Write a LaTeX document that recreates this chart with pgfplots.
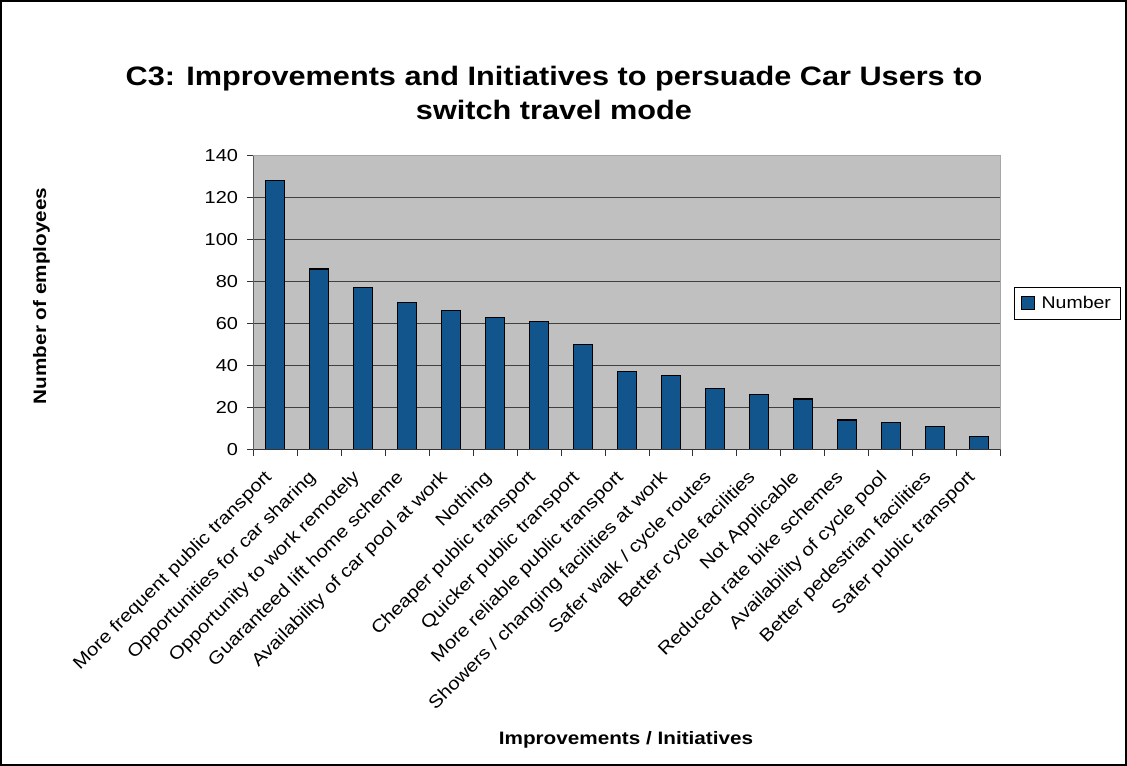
\documentclass[border=0pt]{standalone}
\usepackage{fontspec}
\setmainfont{Liberation Sans}[FakeStretch=1.15]
\usepackage{pgfplots}
\pgfplotsset{compat=1.18}
\definecolor{barblue}{RGB}{18,84,140}
\definecolor{plotgray}{RGB}{192,192,192}

\begin{document}
\begin{tikzpicture}
\useasboundingbox (0,0) rectangle (845.25pt,574.5pt);
\draw[black, line width=1.2pt] (0.6pt,0.6pt) rectangle (844.65pt,573.9pt);

% title and axis titles (1px = 0.75pt)
\node[anchor=base, font=\fontsize{20}{24}\selectfont\bfseries] at (415.5pt,510pt)
  {C3: Improvements and Initiatives to persuade Car Users to};
\node[anchor=base, font=\fontsize{20}{24}\selectfont\bfseries] at (415.5pt,484.5pt)
  {switch travel mode};
\node[anchor=base, rotate=90, font=\fontsize{13.5}{16}\selectfont\bfseries] at (34.5pt,352.5pt)
  {Number of employees};
\node[anchor=base, font=\fontsize{13.5}{16}\selectfont\bfseries] at (469.5pt,15.75pt)
  {Improvements / Initiatives};

\begin{axis}[
    at={(190pt,237.5pt)}, anchor=south west,
    scale only axis,
    width=560.5pt, height=220.2pt,
    ybar, bar width=14.25pt,
    xmin=0.5, xmax=17.5,
    ymin=0, ymax=140,
    ytick={0,20,...,140},
    xtick={1,...,17},
    xticklabels={
      More frequent public transport,
      Opportunities for car sharing,
      Opportunity to work remotely,
      Guaranteed lift home scheme,
      Availability of car pool at work,
      Nothing,
      Cheaper public transport,
      Quicker public transport,
      More reliable public transport,
      Showers / changing facilities at work,
      Safer walk / cycle routes,
      Better cycle facilities,
      Not Applicable,
      Reduced rate bike schemes,
      Availability of cycle pool,
      Better pedestrian facilities,
      Safer public transport},
    minor xtick={0.5,1.5,...,17.5},
    major x tick style={draw=none},
    xtick pos=bottom, ytick pos=left,
    tick align=outside,
    major tick length=5pt,
    minor tick length=5pt,
    tick style={black!80, line width=0.7pt},
    ymajorgrids,
    grid style={black!75, line width=0.7pt},
    axis background/.style={fill=plotgray},
    axis line style={draw=gray!70, line width=0.8pt},
    /pgf/number format/assume math mode=true,
    yticklabel style={font=\fontsize{13}{15}\selectfont, xshift=-3pt},
    xticklabel style={font=\fontsize{13.3}{15}\selectfont, xshift=-9pt, yshift=-8pt,
      rotate=45, anchor=north east, inner sep=1pt},
    legend style={at={(1.018,0.498)}, anchor=west, draw=black, line width=0.6pt,
      font=\fontsize{12.7}{15}\selectfont, inner xsep=5pt, inner ysep=4.5pt,
      /tikz/every even column/.append style={column sep=0pt}},
    legend image code/.code={\draw[#1, line width=0.6pt] (0pt,-4.9pt) rectangle (9.75pt,4.9pt);},
    legend cell align=left,
  ]
  \addplot[fill=barblue, draw=black, line width=0.8pt] coordinates {
    (1,128) (2,86) (3,77) (4,70) (5,66) (6,63) (7,61) (8,50) (9,37)
    (10,35) (11,29) (12,26) (13,24) (14,14) (15,13) (16,11) (17,6)
  };
  \addlegendentry{\hspace{3pt}Number}
  \draw[black!80, line width=0.9pt] (rel axis cs:0,0) -- (rel axis cs:0,1);
  \draw[black!80, line width=0.9pt] (rel axis cs:0,0) -- (rel axis cs:1,0);
\end{axis}
\end{tikzpicture}
\end{document}
